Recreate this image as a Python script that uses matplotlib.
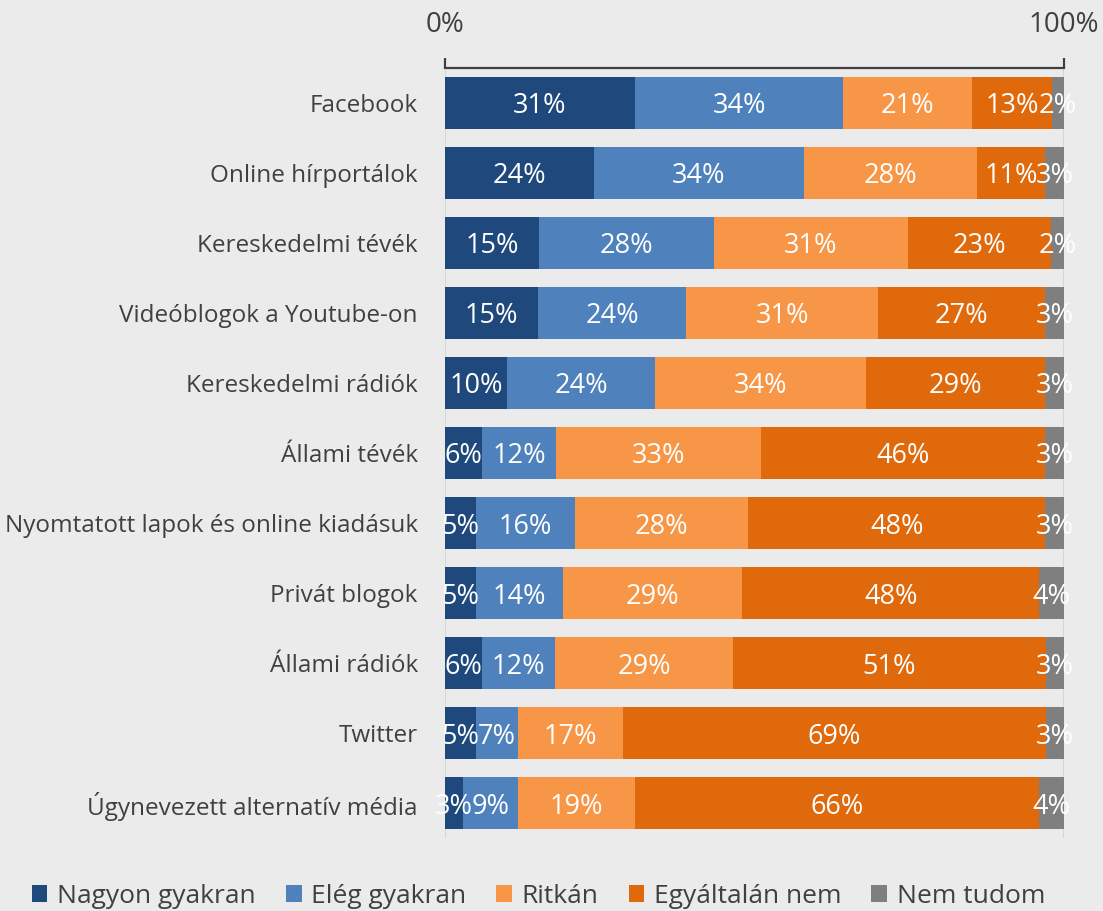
import numpy as np
import matplotlib
matplotlib.use("Agg")
import matplotlib.pyplot as plt
from matplotlib.ticker import FixedLocator
from matplotlib.patches import Patch

plt.rcParams['font.family'] = ['Open Sans', 'DejaVu Sans']

categories = [
    "Facebook",
    "Online hírportálok",
    "Kereskedelmi tévék",
    "Videóblogok a Youtube-on",
    "Kereskedelmi rádiók",
    "Állami tévék",
    "Nyomtatott lapok és online kiadásuk",
    "Privát blogok",
    "Állami rádiók",
    "Twitter",
    "Úgynevezett alternatív média",
]
series = ["Nagyon gyakran", "Elég gyakran", "Ritkán", "Egyáltalán nem", "Nem tudom"]
nagyon = [31, 24, 15, 15, 10, 6, 5, 5, 6, 5, 3]
eleg = [34, 34, 28, 24, 24, 12, 16, 14, 12, 7, 9]
ritkan = [21, 28, 31, 31, 34, 33, 28, 29, 29, 17, 19]
egyaltalan = [13, 11, 23, 27, 29, 46, 48, 48, 51, 69, 66]
nemtudom = [2, 3, 2, 3, 3, 3, 3, 4, 3, 3, 4]
colors = ["#1f497d", "#4f81bd", "#f79646", "#e0690b", "#7f7f7f"]

bg = "#ebebeb"
txt = "#404040"

data = np.array([nagyon, eleg, ritkan, egyaltalan, nemtudom], dtype=float)
share = data / data.sum(axis=0)

fig = plt.figure(figsize=(11.03, 9.11), dpi=100, facecolor=bg)
ax = fig.add_axes([0.4034, 0.0801, 0.5612, 0.8453], facecolor=bg)

y = np.arange(len(categories))
left = np.zeros(len(categories))
for i, name in enumerate(series):
    ax.barh(y, share[i], left=left, height=0.74, color=colors[i], label=name, zorder=3)
    for j in range(len(categories)):
        ax.text(left[j] + share[i][j] / 2, y[j], f"{int(data[i][j])}%", ha="center",
                va="center_baseline", color="white", fontsize=19.5, zorder=4)
    left += share[i]

ax.set_xlim(0, 1)
ax.set_ylim(len(categories) - 0.5, -0.5)
ax.set_yticks(y)
ax.set_yticklabels(categories, fontsize=17.5, color=txt)
ax.tick_params(axis="y", length=0, pad=19.5)

ax.xaxis.set_ticks_position("top")
ax.xaxis.set_major_locator(FixedLocator([0, 1]))
ax.set_xticklabels(["0%", "100%"], fontsize=20, color=txt)
ax.tick_params(axis="x", direction="out", length=7, width=1.6, color=txt, pad=14)
for s in ["left", "right", "bottom"]:
    ax.spines[s].set_visible(False)
ax.spines["top"].set_color(txt)
ax.spines["top"].set_linewidth(1.6)
ax.xaxis.grid(True, color="#d6d6d6", linewidth=1.5, zorder=0)

handles = [Patch(facecolor=c, label=n) for c, n in zip(colors, series)]
fig.legend(handles=handles, loc="center", bbox_to_anchor=(0.488, 0.016), ncol=5, frameon=False,
           fontsize=19, handlelength=0.6, handleheight=0.6, handletextpad=0.35, columnspacing=1.15,
           labelcolor=txt)

fig.savefig("out.png", dpi=100, facecolor=bg)
